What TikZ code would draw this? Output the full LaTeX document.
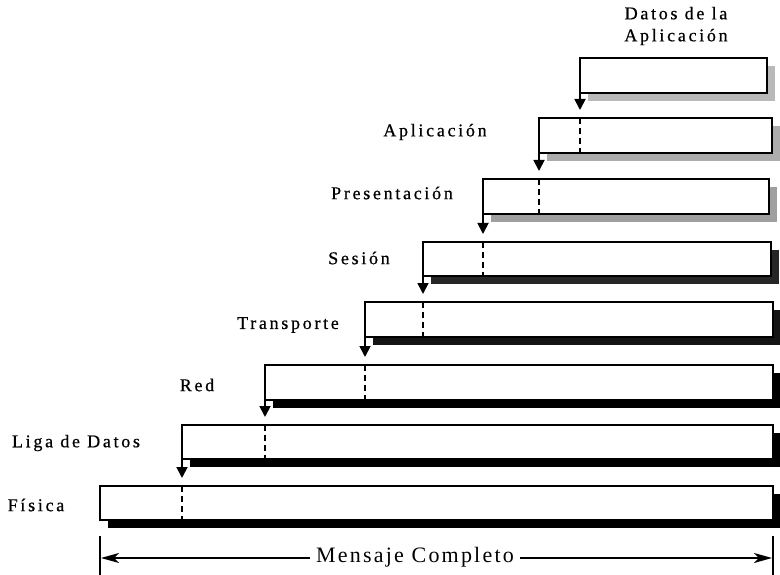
\documentclass[tikz,border=0pt]{standalone}
\usepackage{fontspec}
\setmainfont{Liberation Serif}
\usetikzlibrary{arrows.meta,shadows}
\begin{document}
\begin{tikzpicture}[x=1pt,y=-1pt,
  layer/.style={draw=black, line width=1.8pt, fill=white, anchor=north west,
    inner sep=0pt, outer sep=0pt,
    general shadow={fill=#1, shadow xshift=8pt, shadow yshift=-8pt}},
  down/.style={line width=1.8pt, -{Triangle[width=11pt,length=11pt]}},
  split/.style={line width=2.2pt, dash pattern=on 6pt off 4pt},
  lbl/.style={font=\fontsize{18}{22}\selectfont\addfontfeature{LetterSpace=15,FakeBold=0.6}},
  bar/.style={line width=1.5pt},
  span/.style={line width=1.3pt, {Stealth[length=18pt,width=10pt,inset=5pt]}-{Stealth[length=18pt,width=10pt,inset=5pt]}}]
\useasboundingbox (0,0) rectangle (780,575);

% one header per layer: boxes stacked from application data down to the physical frame
\node[layer=gray!55, minimum width=187pt, minimum height=35pt] (b1) at (580,58) {};
\node[layer=gray!65, minimum width=233pt, minimum height=35pt] (b2) at (539,118) {};
\node[layer=gray!75, minimum width=286pt, minimum height=35pt] (b3) at (483,179) {};
\node[layer=black!85, minimum width=348pt, minimum height=34pt] (b4) at (423,242) {};
\node[layer=black!92, minimum width=408pt, minimum height=35pt] (b5) at (365,302) {};
\node[layer=black, minimum width=508pt, minimum height=35pt] (b6) at (265,365) {};
\node[layer=black, minimum width=591pt, minimum height=34pt] (b7) at (182,425) {};
\node[layer=black, minimum width=673pt, minimum height=34pt] (b8) at (100,486) {};

% hand-off arrows from each layer to the one below
\foreach \a/\b in {b1/b2,b2/b3,b3/b4,b4/b5,b5/b6,b6/b7,b7/b8}{
  \draw[down] (\a.south west) -- ([yshift=8pt]\a.south west |- \b.north);
  \draw[split] (\a.south west |- \b.north) -- (\a.south west |- \b.south);
}

% layer names
\node[lbl, align=center] (n1) at (676,26) {Datos de la\\Aplicación};
\node[lbl] (n2) at (435,132) {Aplicación};
\node[lbl] (n3) at (392,193) {Presentación};
\node[lbl] (n4) at (359,258) {Sesión};
\node[lbl] (n5) at (288,325) {Transporte};
\node[lbl] (n6) at (197,385) {Red};
\node[lbl] (n7) at (76,443) {Liga de Datos};
\node[lbl] (n8) at (36,505) {Física};

% total message length
\coordinate (l0) at (100,536);
\coordinate (l1) at (100,575);
\coordinate (r0) at (773,536);
\coordinate (r1) at (773,575);
\draw[bar] (l0) -- (l1);
\draw[bar] (r0) -- (r1);
\coordinate (la) at (101,558);
\coordinate (ra) at (772,558);
\draw[span] (la) -- (ra);
\node[fill=white, inner xsep=6pt, font=\fontsize{22}{25}\selectfont\addfontfeature{LetterSpace=10}] (msg) at (415,557) {Mensaje Completo};
\end{tikzpicture}
\end{document}
